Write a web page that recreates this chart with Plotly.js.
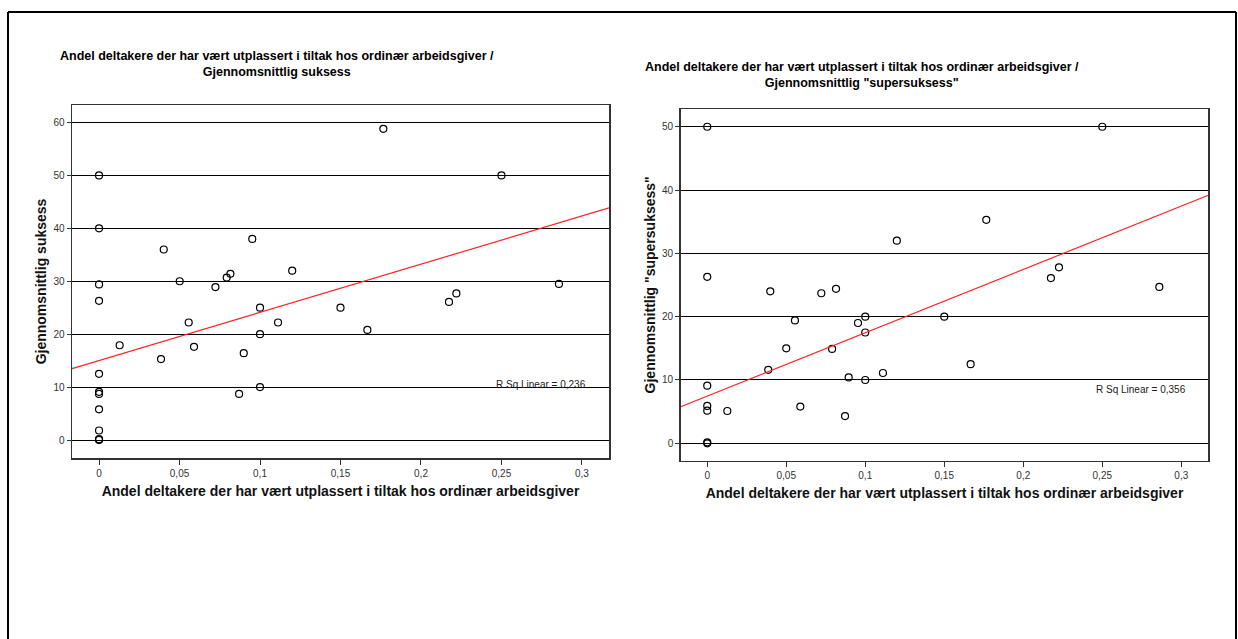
<!DOCTYPE html>
<html>
<head>
<meta charset="utf-8">
<script src="https://cdn.plot.ly/plotly-3.0.1.min.js"></script>
<style>html,body{margin:0;padding:0;background:#fff;}#chart{width:1238px;height:639px;}</style>
</head>
<body>
<div id="chart"></div>
<script>
// ---- Data ----
const xTickVals = [0, 0.05, 0.1, 0.15, 0.2, 0.25, 0.3];
const xTickText = ["0", "0,05", "0,1", "0,15", "0,2", "0,25", "0,3"];
const yTickValsLeft = [0, 10, 20, 30, 40, 50, 60];
const yTickValsRight = [0, 10, 20, 30, 40, 50];

// Left: Gjennomsnittlig suksess
const xLeft = [0, 0, 0, 0, 0, 0, 0, 0, 0, 0, 0,
  0.0128, 0.0385, 0.0402, 0.0501, 0.0557, 0.059, 0.0723, 0.0793, 0.0816, 0.087,
  0.0899, 0.0952, 0.1, 0.1, 0.1, 0.1112, 0.12, 0.15, 0.1667, 0.1766,
  0.2174, 0.222, 0.25, 0.2857];
const yLeft = [50, 40, 29.4, 26.3, 12.5, 9.1, 8.7, 5.8, 1.8, 0, 0.15,
  17.9, 15.3, 36.0, 30.0, 22.2, 17.6, 28.9, 30.7, 31.4, 8.7,
  16.4, 38.0, 25.0, 20.0, 10.0, 22.2, 32.0, 25.0, 20.8, 58.8,
  26.1, 27.7, 50, 29.5];
const fitLeft = {intercept: 15.0, slope: 91.1};
const rsqLeft = "R Sq Linear = 0,236";

// Right: Gjennomsnittlig "supersuksess"
const xRight = [0, 0, 0, 0, 0, 0, 0,
  0.0127, 0.0386, 0.0399, 0.05, 0.0555, 0.0589, 0.0722, 0.079, 0.0815, 0.0872,
  0.0895, 0.0954, 0.1, 0.1, 0.1, 0.1112, 0.12, 0.15, 0.1667, 0.1766,
  0.2175, 0.2226, 0.25, 0.2861];
const yRight = [50, 26.3, 9.1, 5.9, 5.15, 0, 0.15,
  5.1, 11.6, 24.0, 15.0, 19.4, 5.8, 23.7, 14.9, 24.4, 4.3,
  10.4, 19.0, 20.0, 17.5, 10.0, 11.1, 32.0, 20.0, 12.5, 35.3,
  26.1, 27.8, 50, 24.7];
const fitRight = {intercept: 7.46, slope: 100.0};
const rsqRight = "R Sq Linear = 0,356";

const titleLeft = "Andel deltakere der har vært utplassert i tiltak hos ordinær arbeidsgiver /<br>Gjennomsnittlig suksess";
const titleRight = "Andel deltakere der har vært utplassert i tiltak hos ordinær arbeidsgiver /<br>Gjennomsnittlig \"supersuksess\"";
const xTitle = "Andel deltakere der har vært utplassert i tiltak hos ordinær arbeidsgiver";
const yTitleLeft = "Gjennomsnittlig suksess";
const yTitleRight = "Gjennomsnittlig \"supersuksess\"";

// ---- Layout helpers (pixel -> paper) ----
const W = 1238, H = 639;
const px = v => v / W;
const py = v => 1 - v / H;
const FONT = "Liberation Sans, Arial, Helvetica, sans-serif";

const xRangeL = [-0.0168, 0.3168];
const yRangeL = [-3.4, 63.3];
const xRangeR = [-0.0168, 0.3171];
const yRangeR = [-2.75, 52.8];

function fitLine(fit, xr) {
  return {x: [xr[0], xr[1]], y: [fit.intercept + fit.slope * xr[0], fit.intercept + fit.slope * xr[1]]};
}
const flL = fitLine(fitLeft, xRangeL);
const flR = fitLine(fitRight, xRangeR);

const markerStyle = {symbol: "circle-open", size: 7, color: "#000", line: {width: 1.2, color: "#000"}};

const traces = [
  {x: xLeft, y: yLeft, type: "scatter", mode: "markers", marker: markerStyle, xaxis: "x", yaxis: "y", hoverinfo: "x+y"},
  {x: flL.x, y: flL.y, type: "scatter", mode: "lines", line: {color: "#ff2020", width: 1.2}, xaxis: "x", yaxis: "y", hoverinfo: "skip"},
  {x: xRight, y: yRight, type: "scatter", mode: "markers", marker: markerStyle, xaxis: "x2", yaxis: "y2", hoverinfo: "x+y"},
  {x: flR.x, y: flR.y, type: "scatter", mode: "lines", line: {color: "#ff2020", width: 1.2}, xaxis: "x2", yaxis: "y2", hoverinfo: "skip"}
];

function xAxis(domain, range, anchor, standoff) {
  return {
    domain: domain, range: range, anchor: anchor,
    tickmode: "array", tickvals: xTickVals, ticktext: xTickText,
    ticks: "outside", ticklen: 5, tickwidth: 1, tickcolor: "#333",
    showline: true, mirror: true, linecolor: "#333", linewidth: 1.5,
    showgrid: false, zeroline: false,
    tickfont: {family: FONT, size: 10, color: "#333"},
    title: {text: xTitle, font: {family: FONT, size: 14, color: "#111", weight: "bold"}, standoff: standoff}
  };
}
function yAxis(domain, range, anchor, tickvals, title) {
  return {
    domain: domain, range: range, anchor: anchor,
    tickmode: "array", tickvals: tickvals, ticktext: tickvals.map(String),
    ticks: "outside", ticklen: 4, tickwidth: 1, tickcolor: "#333",
    showline: true, mirror: true, linecolor: "#333", linewidth: 1.5,
    showgrid: true, gridcolor: "#000", gridwidth: 1,
    zeroline: true, zerolinecolor: "#000", zerolinewidth: 1,
    tickfont: {family: FONT, size: 10, color: "#333"},
    title: {text: title, font: {family: FONT, size: 14, color: "#111", weight: "bold"}, standoff: 3}
  };
}

const layout = {
  width: W, height: H,
  margin: {l: 0, r: 0, t: 0, b: 0},
  paper_bgcolor: "#fff", plot_bgcolor: "#fff",
  showlegend: false,
  font: {family: FONT, color: "#000"},
  xaxis: xAxis([px(72), px(609)], xRangeL, "y", 8),
  yaxis: yAxis([py(458), py(105)], yRangeL, "x", yTickValsLeft, yTitleLeft),
  xaxis2: xAxis([px(680.7), px(1208.3)], xRangeR, "y2", 8),
  yaxis2: yAxis([py(460.7), py(109)], yRangeR, "x2", yTickValsRight, yTitleRight),
  annotations: [
    {text: titleLeft, xref: "paper", yref: "paper", x: px(277), y: py(64), xanchor: "center", yanchor: "middle",
     showarrow: false, font: {family: FONT, size: 12.5, color: "#000", weight: "bold"}},
    {text: titleRight, xref: "paper", yref: "paper", x: px(862), y: py(75), xanchor: "center", yanchor: "middle",
     showarrow: false, font: {family: FONT, size: 12.5, color: "#000", weight: "bold"}},
    {text: rsqLeft, xref: "paper", yref: "paper", x: px(588), y: py(384), xanchor: "right", yanchor: "middle",
     showarrow: false, font: {family: FONT, size: 10, color: "#222"}},
    {text: rsqRight, xref: "paper", yref: "paper", x: px(1188), y: py(389), xanchor: "right", yanchor: "middle",
     showarrow: false, font: {family: FONT, size: 10, color: "#222"}}
  ],
  shapes: [
    {type: "line", xref: "paper", yref: "paper", x0: px(8), x1: px(8), y0: py(12), y1: py(639), line: {color: "#000", width: 2}},
    {type: "line", xref: "paper", yref: "paper", x0: px(8), x1: px(1236), y0: py(12), y1: py(12), line: {color: "#000", width: 2}},
    {type: "line", xref: "paper", yref: "paper", x0: px(1236), x1: px(1236), y0: py(12), y1: py(639), line: {color: "#000", width: 2}}
  ]
};

Plotly.newPlot("chart", traces, layout, {staticPlot: true, displayModeBar: false});
</script>
</body>
</html>
